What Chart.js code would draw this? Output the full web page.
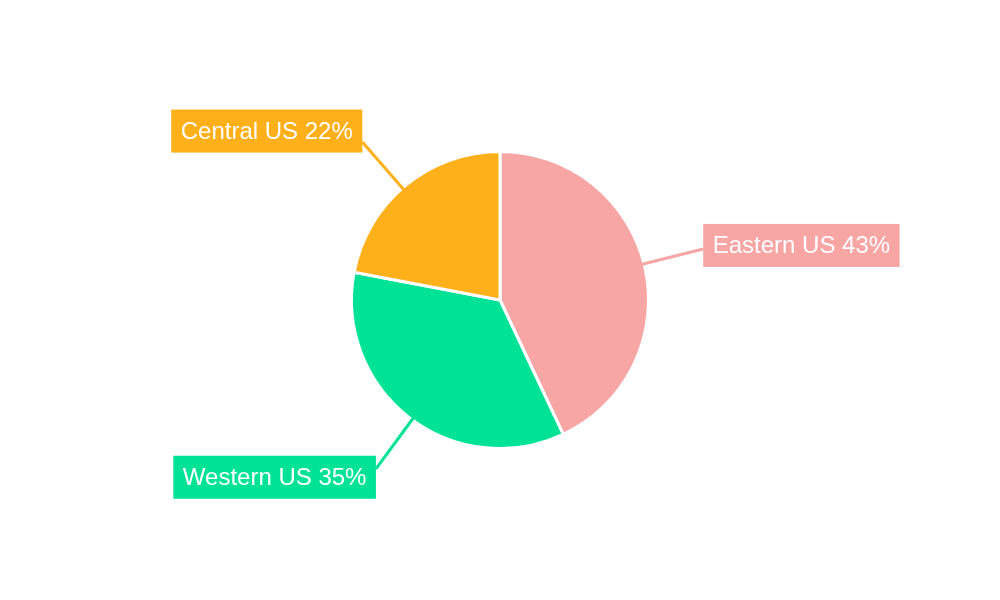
<!DOCTYPE html>
<html>
<head>
<meta charset="utf-8">
<script src="https://cdn.jsdelivr.net/npm/chart.js@4/dist/chart.umd.min.js"></script>
<style>
  html, body { margin: 0; padding: 0; background: #fff; }
  #wrap { width: 1000px; height: 600px; }
</style>
</head>
<body>
<div id="wrap"><canvas id="pieCanvas"></canvas></div>
<script>
// regions and their share
const regions = ["Eastern US", "Western US", "Central US"];
const shares = [43, 35, 22];
const colors = ["#f8a5a6", "#00e396", "#feb01b"];

// draws leader line + coloured box with the label
const calloutLabels = {
  id: "calloutLabels",
  afterDatasetsDraw(chart) {
    const { ctx } = chart;
    const meta = chart.getDatasetMeta(0);
    ctx.save();
    ctx.font = "24px 'Liberation Sans', Arial, sans-serif";
    ctx.textBaseline = "middle";
    meta.data.forEach((arc, i) => {
      const { x, y, startAngle, endAngle, outerRadius } = arc.getProps(["x", "y", "startAngle", "endAngle", "outerRadius"], true);
      // leader a little before the middle of the slice
      const mid = (startAngle + endAngle) / 2 - 0.026;
      const cos = Math.cos(mid), sin = Math.sin(mid);
      const x0 = x + cos * (outerRadius - 3);
      const y0 = y + sin * (outerRadius - 3);
      const len = 61;
      const x1 = x + cos * (outerRadius + len);
      const y1 = y + sin * (outerRadius + len);

      ctx.strokeStyle = colors[i];
      ctx.lineWidth = 3;
      ctx.beginPath();
      ctx.moveTo(x0, y0);
      ctx.lineTo(x1, y1);
      ctx.stroke();

      const text = regions[i] + " " + shares[i] + "%";
      const w = ctx.measureText(text).width + 19;
      const h = 43;
      const right = cos >= 0;
      const bx = right ? x1 : x1 - w;
      const k = y1 < y ? 0.07 : 0.05;
      const cyBox = y1 + k * (y1 - y);
      const by = cyBox - h / 2;
      ctx.fillStyle = colors[i];
      ctx.fillRect(bx, by, w, h);
      ctx.fillStyle = "#fff";
      ctx.textAlign = "center";
      ctx.fillText(text, bx + w / 2, cyBox + 1);
    });
    ctx.restore();
  }
};

new Chart(document.getElementById("pieCanvas"), {
  type: "pie",
  data: {
    labels: regions,
    datasets: [{
      data: shares,
      backgroundColor: colors,
      borderColor: "#fff",
      borderWidth: 3
    }]
  },
  options: {
    responsive: true,
    maintainAspectRatio: false,
    animation: false,
    layout: { padding: { top: 150, bottom: 150, left: 0, right: 0 } },
    plugins: {
      legend: { display: false },
      tooltip: { enabled: false }
    }
  },
  plugins: [calloutLabels]
});
</script>
</body>
</html>
